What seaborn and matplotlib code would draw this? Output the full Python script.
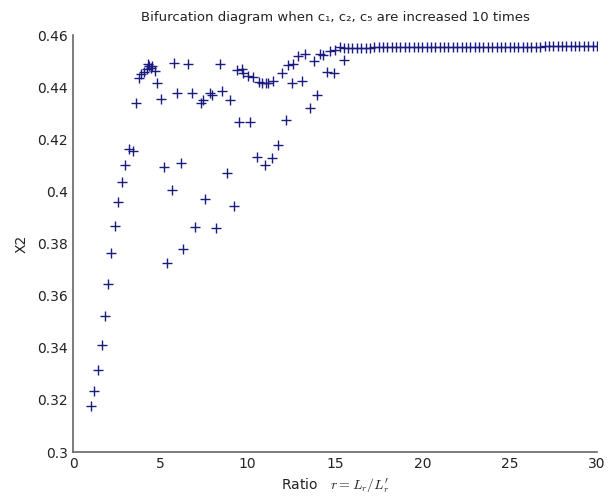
import matplotlib
matplotlib.use("Agg")
import matplotlib.pyplot as plt
import numpy as np
import pandas as pd
import seaborn as sns

# %%
# rising branch (one value per r)
r_rise = [1.01, 1.2, 1.43, 1.64, 1.85, 1.99, 2.18, 2.4, 2.6, 2.79, 2.99, 3.19,
          3.42, 3.63, 3.78, 3.89, 4.06, 4.22, 4.3, 4.37, 4.45, 4.5, 4.69, 4.83, 5.02]
x2_rise = [0.3175, 0.3235, 0.3315, 0.3412, 0.3522, 0.3645, 0.3762, 0.3869, 0.396,
           0.4035, 0.41, 0.4162, 0.4155, 0.4339, 0.4437, 0.445, 0.446, 0.447,
           0.4487, 0.4482, 0.4475, 0.448, 0.4463, 0.4415, 0.4354]

# multi-valued region, 5 < r < 15.5
r_multi = [5.78, 6.6, 8.41,
           5.97, 6.79, 7.31, 7.42, 7.84, 7.94, 8.51, 8.99,
           9.37, 9.66, 9.75, 10.04, 10.32, 10.66, 10.84, 11.05, 11.18, 11.47,
           11.95, 12.33, 12.61, 12.9, 13.28, 13.81, 14.14, 14.33, 14.71, 15.0, 15.28,
           12.52, 13.09, 13.57, 13.95, 14.52, 14.96, 15.53,
           9.52, 10.13, 12.19, 11.75, 11.37, 10.99, 10.55,
           5.21, 6.16, 5.65, 8.8, 7.56, 9.22, 6.98, 8.19, 6.31, 5.4]
x2_multi = [0.4492, 0.449, 0.449,
            0.4379, 0.4379, 0.4341, 0.4351, 0.4377, 0.437, 0.4387, 0.4351,
            0.4464, 0.4469, 0.4456, 0.4441, 0.4439, 0.4418, 0.4415, 0.4415, 0.4415, 0.4422,
            0.4454, 0.4486, 0.449, 0.452, 0.4528, 0.4502, 0.4528, 0.4524, 0.454, 0.4543, 0.4553,
            0.4415, 0.4422, 0.432, 0.437, 0.446, 0.4454, 0.4505,
            0.4266, 0.4266, 0.4274, 0.4178, 0.4127, 0.4102, 0.4133,
            0.4095, 0.4108, 0.4006, 0.4072, 0.397, 0.3945, 0.3865, 0.3861, 0.378, 0.3727]

# plateau after r ~ 15.5
r_flat = [15.5, 15.75, 16.0, 16.25, 16.5, 16.75, 17.0, 17.25, 17.5, 17.75,
          18.0, 18.25, 18.5, 18.75, 19.0, 19.25, 19.5, 19.75, 20.0, 20.25,
          20.5, 20.75, 21.0, 21.25, 21.5, 21.75, 22.0, 22.25, 22.5, 22.75,
          23.0, 23.25, 23.5, 23.75, 24.0, 24.25, 24.5, 24.75, 25.0, 25.25,
          25.5, 25.75, 26.0, 26.25, 26.5, 26.75, 27.0, 27.25, 27.5, 27.75,
          28.0, 28.25, 28.5, 28.75, 29.0, 29.25, 29.5, 29.75, 30.0]
x2_flat = [0.4551, 0.4552, 0.4552, 0.4552, 0.4552, 0.4552, 0.4552, 0.4553, 0.4553, 0.4553,
           0.4553, 0.4553, 0.4553, 0.4553, 0.4554, 0.4554, 0.4554, 0.4554, 0.4554, 0.4554,
           0.4554, 0.4555, 0.4555, 0.4555, 0.4555, 0.4555, 0.4555, 0.4555, 0.4555, 0.4555,
           0.4555, 0.4556, 0.4556, 0.4556, 0.4556, 0.4556, 0.4556, 0.4556, 0.4556, 0.4556,
           0.4556, 0.4556, 0.4556, 0.4556, 0.4556, 0.4556, 0.4557, 0.4557, 0.4557, 0.4557,
           0.4557, 0.4557, 0.4557, 0.4557, 0.4557, 0.4557, 0.4557, 0.4557, 0.4557]

df = pd.DataFrame({"r": r_rise + r_multi + r_flat,
                   "X2": x2_rise + x2_multi + x2_flat})

# %%
sns.set_style("white")
plt.rcParams["font.family"] = ["DejaVu Sans"]
plt.rcParams["mathtext.fontset"] = "cm"
plt.rcParams["xtick.direction"] = "in"
plt.rcParams["ytick.direction"] = "in"

fig = plt.figure(figsize=(6.11, 4.97), dpi=100)
ax = fig.add_axes([0.1195, 0.0905, 0.8575, 0.839])

sns.scatterplot(data=df, x="r", y="X2", marker="+", color="#1c1c80",
                s=55, linewidth=1.0, ax=ax)

ax.set_xlim(0, 30)
ax.set_ylim(0.3, 0.46)
ax.set_xticks([0, 5, 10, 15, 20, 25, 30])
ax.set_yticks([0.3, 0.32, 0.34, 0.36, 0.38, 0.4, 0.42, 0.44, 0.46])
ax.set_yticklabels(["0.3", "0.32", "0.34", "0.36", "0.38", "0.4", "0.42", "0.44", "0.46"])
ax.tick_params(axis="both", labelsize=10, colors="#555555", labelcolor="#222222",
               length=4, width=1)
for side in ["left", "bottom"]:
    ax.spines[side].set_color("#666666")
    ax.spines[side].set_linewidth(1.2)
sns.despine(ax=ax)

ax.set_title("Bifurcation diagram when c\u2081, c\u2082, c\u2085 are increased 10 times",
             fontsize=9.5, color="#222222", pad=10)
ax.set_xlabel("Ratio   $r = L_r/L_r^{\\prime}$", fontsize=10, color="#222222", labelpad=4)
ax.set_ylabel("X2", fontsize=10, color="#222222", labelpad=6)

fig.savefig("out.png", dpi=100)
